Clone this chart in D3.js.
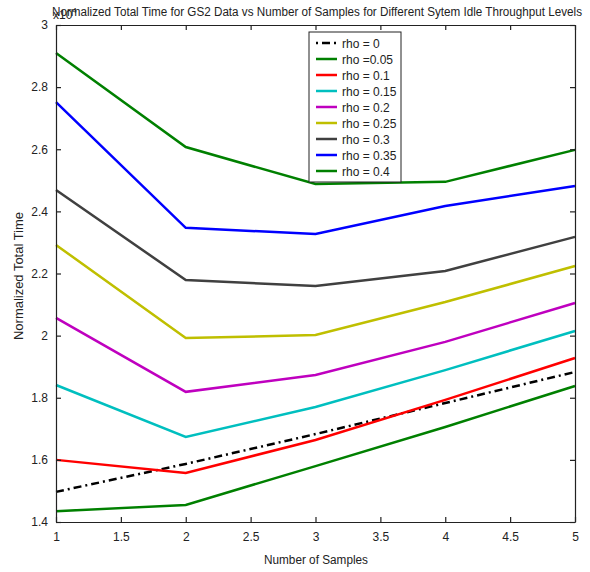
<!DOCTYPE html>
<html>
<head>
<meta charset="utf-8">
<script src="https://cdn.jsdelivr.net/npm/d3@7"></script>
<style>
  body { margin: 0; background: #fff; }
  svg text { font-family: "Liberation Sans Narrow", "Liberation Sans", Arial, sans-serif; fill: #222; }
</style>
</head>
<body>
<svg id="chart"></svg>
<script>
const samples = [1, 2, 3, 4, 5];
const rhoLabels = ["rho = 0", "rho =0.05", "rho = 0.1", "rho = 0.15", "rho = 0.2", "rho = 0.25", "rho = 0.3", "rho = 0.35", "rho = 0.4"];
const rho0 = [1.497, 1.587, 1.683, 1.783, 1.883];
const rho005 = [1.435, 1.455, 1.580, 1.706, 1.838];
const rho01 = [1.600, 1.558, 1.664, 1.793, 1.928];
const rho015 = [1.841, 1.674, 1.770, 1.889, 2.015];
const rho02 = [2.057, 1.819, 1.873, 1.980, 2.105];
const rho025 = [2.292, 1.992, 2.002, 2.108, 2.224];
const rho03 = [2.469, 2.179, 2.160, 2.208, 2.318];
const rho035 = [2.752, 2.347, 2.327, 2.417, 2.482];
const rho04 = [2.910, 2.607, 2.488, 2.495, 2.598];
const xTicks = [1, 1.5, 2, 2.5, 3, 3.5, 4, 4.5, 5];
const yTicks = [1.4, 1.6, 1.8, 2, 2.2, 2.4, 2.6, 2.8, 3];

const seriesValues = [rho0, rho005, rho01, rho015, rho02, rho025, rho03, rho035, rho04];
const colors = ["#000000", "#008000", "#ff0000", "#00bfbf", "#bf00bf", "#bfbf00", "#404040", "#0000ff", "#008000"];

const width = 590, height = 572;
const margin = {top: 25, right: 15, bottom: 50, left: 56};

const svg = d3.select("#chart").attr("width", width).attr("height", height);

const x = d3.scaleLinear().domain([1, 5]).range([margin.left, width - margin.right]);
const y = d3.scaleLinear().domain([1.4, 3]).range([height - margin.bottom, margin.top]);

// lines
const line = d3.line().x((d, i) => x(samples[i])).y(d => y(d));

svg.selectAll(".series")
  .data(seriesValues)
  .enter()
  .append("path")
  .attr("class", "series")
  .attr("d", d => line(d))
  .attr("fill", "none")
  .attr("stroke", (d, i) => colors[i])
  .attr("stroke-width", 2.5)
  .attr("stroke-dasharray", (d, i) => i === 0 ? "8,4,2,4" : null);

// axes box
const tick = 5;
svg.append("g")
  .attr("transform", `translate(0,${y(1.4)})`)
  .call(d3.axisBottom(x).tickValues(xTicks).tickSizeInner(-tick).tickSizeOuter(0).tickPadding(10).tickFormat(d3.format("")))
  .call(g => g.selectAll("text").style("font-size", "12px"));
svg.append("g")
  .attr("transform", `translate(0,${y(3)})`)
  .call(d3.axisTop(x).tickValues(xTicks).tickSizeInner(-tick).tickSizeOuter(0).tickFormat(""));
svg.append("g")
  .attr("transform", `translate(${x(1)},0)`)
  .call(d3.axisLeft(y).tickValues(yTicks).tickSizeInner(-tick).tickSizeOuter(0).tickPadding(8).tickFormat(d3.format("")))
  .call(g => g.selectAll("text").style("font-size", "12px"));
svg.append("g")
  .attr("transform", `translate(${x(5)},0)`)
  .call(d3.axisRight(y).tickValues(yTicks).tickSizeInner(-tick).tickSizeOuter(0).tickFormat(""));
svg.selectAll(".domain, .tick line").attr("stroke", "#222").attr("stroke-width", 1.2);

// legend
const legend = svg.append("g").attr("transform", "translate(309,32)");
legend.append("rect")
  .attr("width", 92).attr("height", 150)
  .attr("fill", "#fff").attr("stroke", "#222").attr("stroke-width", 1);
const items = legend.selectAll(".legend-item")
  .data(rhoLabels)
  .enter()
  .append("g")
  .attr("transform", (d, i) => `translate(0,${11 + i * 16})`);
items.append("line")
  .attr("x1", 7).attr("x2", 28)
  .attr("stroke", (d, i) => colors[i])
  .attr("stroke-width", 2.5)
  .attr("stroke-dasharray", (d, i) => i === 0 ? "2,4,8,4,2" : null);
items.append("text")
  .attr("x", 33).attr("y", 4.5)
  .style("font-size", "12px")
  .text(d => d);

// labels
svg.append("text")
  .attr("x", 53).attr("y", 19)
  .style("font-size", "12px")
  .html('x10<tspan dy="-6" font-size="8">4</tspan>');
svg.append("text")
  .attr("x", 52).attr("y", 16)
  .attr("textLength", 530)
  .attr("lengthAdjust", "spacingAndGlyphs")
  .style("font-size", "12.5px")
  .text("Normalized Total Time for GS2 Data vs Number of Samples for Different Sytem Idle Throughput Levels");
svg.append("text")
  .attr("x", 264).attr("y", 564)
  .attr("textLength", 104)
  .attr("lengthAdjust", "spacingAndGlyphs")
  .style("font-size", "12.5px")
  .text("Number of Samples");
svg.append("text")
  .attr("transform", "translate(23,340) rotate(-90)")
  .attr("textLength", 128)
  .attr("lengthAdjust", "spacingAndGlyphs")
  .style("font-size", "12.5px")
  .text("Normalized Total Time");
</script>
</body>
</html>
